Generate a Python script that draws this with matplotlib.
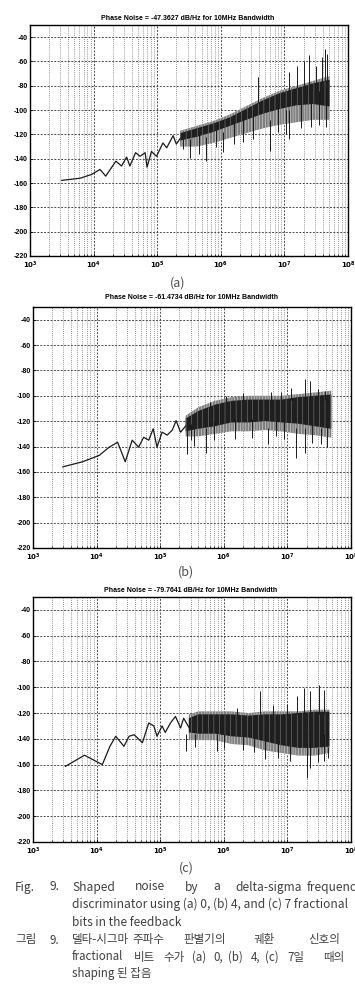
import matplotlib
matplotlib.use('Agg')
import matplotlib.pyplot as plt
import numpy as np

# ---- data ----
titles = ['Phase Noise = -47.3627 dB/Hz for 10MHz Bandwidth',
          'Phase Noise = -61.4734 dB/Hz for 10MHz Bandwidth',
          'Phase Noise = -79.7641 dB/Hz for 10MHz Bandwidth']
sub_labels = ['(a)', '(b)', '(c)']
y_ticks = [-40, -60, -80, -100, -120, -140, -160, -180, -200, -220]
x_ticks = [1e3, 1e4, 1e5, 1e6, 1e7, 1e8]

# low-frequency (resolved) part of each trace
a_f = [3.16e3, 6.17e3, 9.33e3, 1.26e4, 1.55e4, 2.24e4, 2.75e4, 3.31e4, 3.72e4, 4.57e4,
       5.37e4, 6.46e4, 6.92e4, 8.13e4, 9.77e4, 1.23e5, 1.41e5, 1.78e5, 2.0e5]
a_db = [-157.8, -156, -152.9, -148.8, -154.3, -142, -146, -138.6, -146, -135,
        -138, -135, -147, -134, -138, -127, -131, -121, -128]
b_f = [2.95e3, 6.03e3, 1.1e4, 1.58e4, 2.14e4, 2.82e4, 3.63e4, 4.57e4, 5.5e4, 6.61e4,
       7.76e4, 8.91e4, 1.07e5, 1.29e5, 1.55e5, 1.78e5, 2.09e5]
b_db = [-156, -152, -147, -140.5, -136.6, -152, -135, -140.5, -132.7, -135,
        -126, -140.5, -128.7, -131, -127, -119.6, -128.7]
c_f = [3.24e3, 6.46e3, 1.23e4, 1.62e4, 2.0e4, 2.69e4, 3.24e4, 3.89e4, 5.25e4, 6.61e4,
       7.94e4, 8.91e4, 1.07e5, 1.2e5, 1.45e5, 1.74e5, 2.09e5, 2.34e5]
c_db = [-161.3, -152.7, -160, -145.8, -138, -145.8, -138, -136.8, -143, -127.7,
        -130, -138, -130, -135, -127.7, -122.6, -131.6, -124]

# dense noise band: frequencies, outer and inner (dark core) envelopes
a_band_f = [2.29e5, 4.17e5, 7.59e5, 1.38e6, 2.51e6, 4.57e6, 8.51e6, 1.55e7, 2.82e7, 5.13e7]
a_out_hi = [-117, -113, -109, -103.6, -96.7, -90, -84, -80, -76, -72]
a_out_lo = [-130, -130, -127, -123, -119, -115, -112, -110, -108, -108]
a_in_hi = [-119, -115, -111, -106, -99, -92, -86, -82, -78, -75]
a_in_lo = [-125, -122, -118, -113, -108, -103, -99, -96, -95, -97]

b_band_f = [2.51e5, 3.98e5, 7.24e5, 1.32e6, 2.45e6, 4.47e6, 8.13e6, 1.48e7, 2.69e7, 4.9e7]
b_out_hi = [-115.7, -109, -104, -101, -100, -100, -100, -98.7, -97.4, -96]
b_out_lo = [-132, -132, -130, -128, -128, -127, -128, -130, -131, -133]
b_in_hi = [-118, -112, -107, -104, -103, -103, -103, -101, -100, -99]
b_in_lo = [-128, -126, -124, -121, -121, -120, -121, -122, -124, -126]

c_band_f = [2.82e5, 3.98e5, 7.24e5, 1.32e6, 2.45e6, 4.47e6, 8.13e6, 1.48e7, 2.69e7, 4.57e7]
c_out_hi = [-121, -118.7, -118.7, -118.7, -120, -118.7, -118.7, -118.7, -117.4, -117.4]
c_out_lo = [-141, -141, -141, -144, -145, -149, -151, -153, -153, -151]
c_in_hi = [-124, -121, -121, -121, -122, -121, -121, -120, -119, -119]
c_in_lo = [-135, -136, -136, -138, -139, -142, -145, -147, -147, -146]

# isolated spikes: frequency, low end, high end
a_sp_f = [3.89e6, 1.2e7, 1.55e7, 2.0e7, 2.4e7, 3.16e7, 3.89e7, 4.37e7, 4.68e7,
          3.24e5, 5.89e5, 1.07e6, 5.89e6, 1.07e7, 1.2e7,
          2.5e5, 4.6e5, 8.5e5, 1.6e6, 2.2e6, 3.2e6, 8e6, 1.8e7, 2.6e7, 3.5e7, 4.5e7]
a_sp_lo = [-94, -84, -82, -80, -79, -78, -77, -76, -76,
           -139, -142, -134.6, -133.8, -120, -124,
           -132, -136, -130, -128, -126, -124, -118, -115, -114, -112, -114]
a_sp_hi = [-72.9, -68.8, -63.9, -59.8, -54.8, -63.9, -56.5, -49.9, -54,
           -124, -122, -118, -108, -100, -100,
           -124, -120, -116, -110, -104, -100, -96, -92, -88, -84, -82]
b_sp_f = [1.86e7, 2.29e7, 1.15e7, 3.02e7, 3.89e7, 5.62e6, 6e5, 1.1e6, 2e6, 8e6,
          2.63e5, 3.39e5, 5.25e5, 5.01e6, 1.38e7, 1.91e7, 3.39e7,
          3e5, 7e5, 1.5e6, 2.8e6, 6.5e6, 9e6, 2.4e7, 4.2e7]
b_sp_lo = [-103, -103, -103, -103, -103, -103, -110, -106, -104, -104,
           -146, -139.3, -144.9, -138, -148.7, -144.9, -138,
           -135, -135, -134, -133, -132, -134, -137, -140]
b_sp_hi = [-86.8, -88.4, -94, -94.7, -96, -97, -105, -100, -98, -97,
           -125, -125, -125, -125, -125, -125, -125,
           -122, -120, -118, -118, -118, -118, -120, -122]
c_sp_f = [3.72e6, 1.41e7, 1.82e7, 2.29e7, 3.16e7, 3.72e7, 1.6e6, 6e6, 1e7,
          2.51e5, 7.76e5, 4.47e6, 2.0e7, 2.24e7, 3.8e7,
          3.5e5, 1e6, 2e6, 3e6, 7e6, 1.1e7, 3e7, 4.3e7]
c_sp_lo = [-121, -121, -121, -121, -121, -121, -122, -122, -122,
           -149.6, -149.6, -156, -170, -162.5, -157,
           -146, -147, -149, -150, -155, -157, -158, -155]
c_sp_hi = [-103.2, -107, -100.6, -103, -98, -102, -116, -114, -113,
           -136, -136, -136, -136, -136, -136,
           -136, -136, -138, -139, -142, -145, -147, -146]

panels = [
    (a_f, a_db, a_band_f, a_out_hi, a_out_lo, a_in_hi, a_in_lo, a_sp_f, a_sp_lo, a_sp_hi),
    (b_f, b_db, b_band_f, b_out_hi, b_out_lo, b_in_hi, b_in_lo, b_sp_f, b_sp_lo, b_sp_hi),
    (c_f, c_db, c_band_f, c_out_hi, c_out_lo, c_in_hi, c_in_lo, c_sp_f, c_sp_lo, c_sp_hi),
]

W, H = 355, 990
fig = plt.figure(figsize=(W / 100, H / 100), dpi=100)
plt.rcParams['hatch.linewidth'] = 0.35

# axes boxes in pixels: left, top, right, bottom
boxes = [(30, 25, 348, 256), (33, 307, 351, 548), (33, 597, 351, 842)]
title_pos = [(188, 18), (192, 298), (191, 590)]
sub_pos = [(178, 283), (186, 572), (186, 868)]

for i, (box, p) in enumerate(zip(boxes, panels)):
    l, t, r, b = box
    ax = fig.add_axes([l / W, 1 - b / H, (r - l) / W, (b - t) / H])
    f, db, bf, ohi, olo, ihi, ilo, sf, slo, shi = p

    ax.fill_between(bf, olo, ohi, facecolor='0.5', edgecolor='0.9', hatch='||||||', linewidth=0, zorder=3)
    ax.fill_between(bf, ilo, ihi, facecolor='0.12', edgecolor='0.55', hatch='|||', linewidth=0, zorder=4)
    ax.vlines(sf, slo, shi, color='0.1', lw=0.7, zorder=4)
    ax.plot(f + [bf[0]], db + [(ohi[0] + olo[0]) / 2], color='0.1', lw=0.9, zorder=5)

    ax.set_xscale('log')
    ax.set_xlim(1e3, 1e8)
    ax.set_ylim(-220, -30)
    ax.set_yticks(y_ticks)
    ax.set_yticklabels([str(v) for v in y_ticks], fontsize=5, fontweight='bold', family='Liberation Sans')
    ax.set_xticks(x_ticks)
    ax.set_xticklabels([r'$\mathbf{10^{%d}}$' % k for k in range(3, 9)], fontsize=5)
    ax.tick_params(direction='in', length=2.5, width=0.6, pad=1.5)
    ax.tick_params(axis='x', pad=2.5)
    ax.tick_params(which='minor', direction='in', length=1.5, width=0.5)
    ax.grid(True, which='major', linestyle=(0, (2, 1.5)), color='0.3', lw=0.7)
    ax.grid(True, which='minor', axis='x', linestyle=(0, (1, 1.5)), color='0.45', lw=0.6)
    for s in ax.spines.values():
        s.set_linewidth(1.0)

    tx, ty = title_pos[i]
    fig.text(tx / W, 1 - ty / H, titles[i], ha='center', va='center', fontsize=5,
             fontweight='bold', family='Liberation Sans')
    sx, sy = sub_pos[i]
    fig.text(sx / W, 1 - sy / H, sub_labels[i], ha='center', va='center', fontsize=9,
             color='0.3', family='Noto Sans CJK KR')

# ---- figure caption (justified in the scan, so words are placed one by one) ----
cap_font = ['Noto Sans CJK KR', 'DejaVu Sans']
cap_color = '0.25'
lat_size = 8.6
kor_size = 8.3
line1 = [('Fig.', 15), ('9.', 50), ('Shaped', 72), ('noise', 135), ('by', 185), ('a', 213),
         ('delta-sigma', 235), ('frequency', 307)]
line4 = [('그림', 15), ('9.', 50), ('델타-시그마', 72), ('주파수', 132), ('판별기의', 183),
         ('궤환', 254), ('신호의', 308)]
line5 = [('fractional', 72), ('비트', 134), ('수가', 163), ('(a)', 192), ('0,', 213), ('(b)', 228),
         ('4,', 251), ('(c)', 265), ('7일', 287), ('때의', 323)]
for words, y, fs in [(line1, 887, lat_size), (line4, 940, kor_size), (line5, 957, kor_size)]:
    for w, x in words:
        fig.text(x / W, 1 - y / H, w, ha='left', va='center', fontsize=fs,
                 color=cap_color, family=cap_font)
for s, y, fs in [('discriminator using (a) 0, (b) 4, and (c) 7 fractional', 904, lat_size),
                 ('bits in the feedback', 922, lat_size), ('shaping 된 잡음', 974, kor_size)]:
    fig.text(72 / W, 1 - y / H, s, ha='left', va='center', fontsize=fs,
             color=cap_color, family=cap_font)

plt.savefig('out.png', dpi=100)
